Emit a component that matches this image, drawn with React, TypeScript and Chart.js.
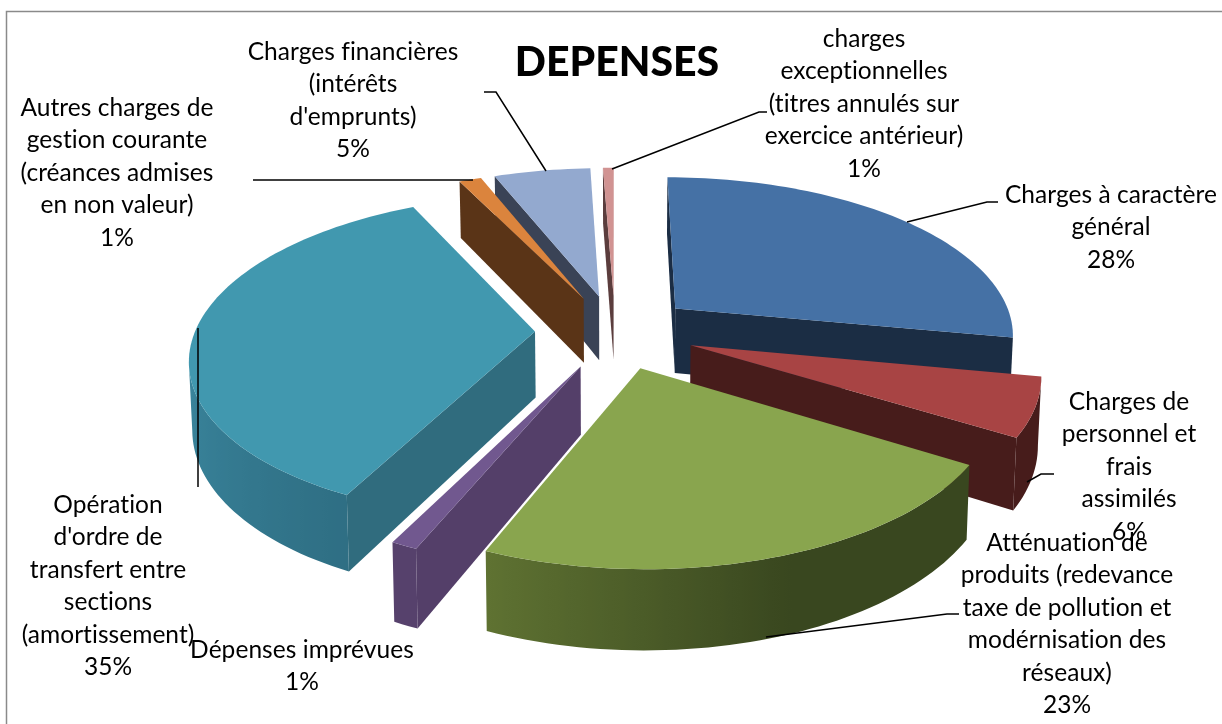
import React, { useEffect, useRef } from "react";
import { Chart, registerables } from "chart.js";

Chart.register(...registerables);

const TITLE = "DEPENSES";
const CATEGORIES: string[][] = [
  ["Charges à caractère", "général"],
  ["Charges de", "personnel et", "frais", "assimilés"],
  ["Atténuation de", "produits (redevance", "taxe de pollution et", "modérnisation des", "réseaux)"],
  ["Dépenses imprévues"],
  ["Opération", "d'ordre de", "transfert entre", "sections", "(amortissement)"],
  ["Autres charges de", "gestion courante", "(créances admises", "en non valeur)"],
  ["Charges financières", "(intérêts", "d'emprunts)"],
  ["charges", "exceptionnelles", "(titres annulés sur", "exercice antérieur)"],
];
const VALUES = [28, 5.8, 22.5, 1.05, 35.4, 1.25, 5.4, 0.6];

const TOP_COLORS = ["#4571A5", "#A84444", "#89A54E", "#71588F", "#4198AF", "#DB843D", "#93A9CF", "#D19392"];
const WALL_COLORS = ["#1B2D44", "#471C1B", "#39471F", "#543F69", "#306C7E", "#5A3417", "#3A4356", "#5B3D3D"];
const ARC_DARK = ["#1B2D44", "#471C1B", "#39471F", "#543F69", "#245A6D", "#5A3417", "#3A4356", "#5B3D3D"];
const ARC_LIGHT = ["#1B2D44", "#471C1B", "#9BB750", "#5A4470", "#3D8BA3", "#5A3417", "#3A4356", "#5B3D3D"];

// Label placement: centre x and first line's middle y
const LABEL_X = [1111, 1129, 1067, 302, 108, 117, 353, 864];
const LABEL_Y = [195, 402, 543, 650, 505, 108, 52, 39];
const LINE_H = 32.5;

const LEADERS: number[][][] = [
  [[907, 222], [987, 202], [998, 202]],
  [[1027, 482], [1041, 474], [1054, 474]],
  [[766, 637], [947, 614], [959, 614]],
  [[198, 328], [198, 487]],
  [[253, 180], [473, 180]],
  [[484, 92], [496, 92], [546, 171]],
  [[612, 169], [759, 112], [767, 112]],
];

const EXPLODE = 80;
const PERSP = 0.00045;
const SQUASH = 0.464;
const DEPTH = 66;
const CENTER_SHIFT_X = -2;
const FONT = "Lato";

const hex = (c: string) => [1, 3, 5].map((i) => parseInt(c.slice(i, i + 2), 16));
const mix = (a: string, b: string, t: number) => {
  const A = hex(a), B = hex(b);
  return `rgb(${A.map((v, i) => Math.round(v + (B[i] - v) * t)).join(",")})`;
};

const pie3d = {
  id: "pie3d",
  beforeDatasetsDraw(chart: any) {
    const ctx: CanvasRenderingContext2D = chart.ctx;
    const arcs = chart.getDatasetMeta(0).data;
    const order = arcs.map((_: any, i: number) => i).sort((a: number, b: number) => {
      const m = (e: any) => Math.sin((e.startAngle + e.endAngle) / 2);
      return m(arcs[a]) - m(arcs[b]);
    });
    const shape = (pts: number[][], fill: string | CanvasGradient) => {
      ctx.beginPath();
      pts.forEach((p, i) => (i ? ctx.lineTo(p[0], p[1]) : ctx.moveTo(p[0], p[1])));
      ctx.closePath();
      ctx.fillStyle = fill;
      ctx.fill();
    };
    order.forEach((i: number) => {
      const a = arcs[i];
      const mid = (a.startAngle + a.endAngle) / 2;
      const off = a.options.offset;
      const u0 = off * Math.cos(mid), v0 = off * Math.sin(mid);
      const proj = (u: number, v: number, z = 0) => {
        const s = 1 / (1 - PERSP * v);
        return [a.x + CENTER_SHIFT_X + u * s * (z ? 0.992 : 1), a.y + SQUASH * v * s + z * s];
      };
      const rim = (t: number, z = 0) =>
        proj(u0 + a.outerRadius * Math.cos(t), v0 + a.outerRadius * Math.sin(t), z);
      const n = Math.max(2, Math.ceil(((a.endAngle - a.startAngle) * 180) / Math.PI / 1.5));
      const angles = Array.from({ length: n + 1 }, (_, k) => a.startAngle + ((a.endAngle - a.startAngle) * k) / n);
      const quad = (p: number[], q: number[], pb: number[], qb: number[], fill: string) => {
        if (q[0] < p[0]) shape([p, q, qb, pb], fill);
      };
      const apex = proj(u0, v0), apexB = proj(u0, v0, DEPTH);
      quad(apex, rim(a.startAngle), apexB, rim(a.startAngle, DEPTH), WALL_COLORS[i]);
      quad(rim(a.endAngle), apex, rim(a.endAngle, DEPTH), apexB, WALL_COLORS[i]);

      // outer wall: the part of the rim that faces the viewer, as one gradient-filled shape
      const visible = angles.filter((t, k) => {
        const next = angles[k + 1];
        const prev = angles[k - 1];
        return (next !== undefined && rim(next)[0] < rim(t)[0]) || (prev !== undefined && rim(t)[0] < rim(prev)[0]);
      });
      if (visible.length > 1) {
        const xs = visible.map((t) => rim(t)[0]);
        const x0 = xs[0], x1 = xs[xs.length - 1];
        const g = ctx.createLinearGradient(x0, 0, x1, 0);
        visible.forEach((t, k) => {
          const deg = (t * 180) / Math.PI;
          const c = mix(ARC_DARK[i], ARC_LIGHT[i], Math.min(1, Math.max(0, (deg - 70) / 110)));
          g.addColorStop(Math.min(1, Math.max(0, (xs[k] - x0) / (x1 - x0))), c);
        });
        shape([...visible.map((t) => rim(t)), ...[...visible].reverse().map((t) => rim(t, DEPTH))], g);
      }
      shape([apex, ...angles.map((t) => rim(t))], TOP_COLORS[i]);
    });
    return false;
  },
  afterDraw(chart: any) {
    const ctx: CanvasRenderingContext2D = chart.ctx;
    ctx.save();
    ctx.strokeStyle = "#8A8A8A";
    ctx.lineWidth = 1.5;
    ctx.beginPath();
    ctx.moveTo(6.5, 724);
    ctx.lineTo(6.5, 11.5);
    ctx.lineTo(1222, 11.5);
    ctx.stroke();
    ctx.strokeStyle = "#000";
    ctx.lineWidth = 1.5;
    LEADERS.forEach((l) => {
      ctx.beginPath();
      l.forEach((p, i) => (i ? ctx.lineTo(p[0], p[1]) : ctx.moveTo(p[0], p[1])));
      ctx.stroke();
    });
    ctx.fillStyle = "#000";
    ctx.font = `24.5px ${FONT}`;
    (ctx as any).letterSpacing = "0.05px";
    ctx.textAlign = "center";
    ctx.textBaseline = "middle";
    CATEGORIES.forEach((lines, i) => {
      [...lines, `${Math.round(VALUES[i])}%`].forEach((t, k) => {
        ctx.fillText(t, LABEL_X[i], LABEL_Y[i] + k * LINE_H);
      });
    });
    ctx.restore();
  },
};

export default function App() {
  const ref = useRef<HTMLCanvasElement>(null);
  useEffect(() => {
    const chart = new Chart(ref.current!, {
      type: "pie",
      data: {
        labels: CATEGORIES.map((c) => c.join(" ")),
        datasets: [{ data: VALUES, backgroundColor: TOP_COLORS, offset: EXPLODE, borderWidth: 0 }],
      },
      options: {
        animation: false,
        responsive: false,
        radius: 340,
        layout: { padding: { left: 12, bottom: 148, top: 0 } },
        plugins: {
          legend: { display: false },
          tooltip: { enabled: false },
          title: {
            display: true,
            text: TITLE,
            color: "#000",
            font: { family: FONT, size: 41, weight: "900" },
            padding: { top: 38, bottom: 0 },
          },
        },
      },
      plugins: [pie3d],
    } as any);
    return () => chart.destroy();
  }, []);
  return (
    <canvas
      ref={ref}
      width={1222}
      height={724}
      style={{ position: "fixed", left: 0, top: 0, display: "block" }}
    />
  );
}
